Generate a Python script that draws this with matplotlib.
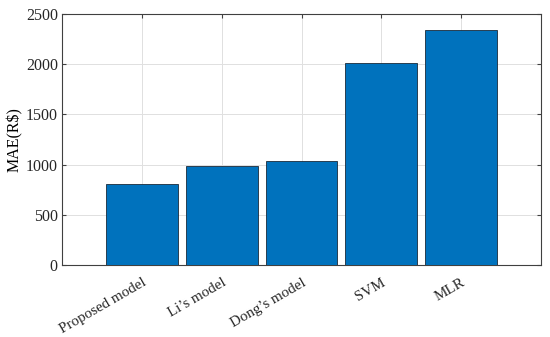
import matplotlib
matplotlib.use("Agg")
import matplotlib.pyplot as plt
import numpy as np

models = ["Proposed model", "Li\u2019s model", "Dong\u2019s model", "SVM", "MLR"]
mae = [802, 987, 1033, 2015, 2342]

plt.rcParams["font.family"] = ["Liberation Serif", "DejaVu Serif"]
plt.rcParams["font.size"] = 11.5

fig = plt.figure(figsize=(5.5, 3.37), dpi=100)
ax = fig.add_axes([62 / 550, 1 - 265 / 337, (541 - 62) / 550, (265 - 14) / 337])

x = np.arange(1, len(models) + 1)
ax.bar(x, mae, width=0.9, color="#0072BD", edgecolor="#1a2a3a", linewidth=0.6, zorder=3)

ax.set_xlim(0, 6)
ax.set_ylim(0, 2500)
ax.set_yticks(np.arange(0, 2501, 500))
ax.set_xticks(x)
ax.set_xticklabels(models, rotation=30, ha="right", rotation_mode="anchor", fontsize=10.8)
ax.set_ylabel("MAE(R$)", labelpad=2)

ax.grid(True, color="#e0e0e0", linewidth=0.7, zorder=0)
ax.tick_params(direction="in", top=True, right=True, length=3, pad=3,
               color="#404040", labelcolor="#262626")
ax.tick_params(axis="x", pad=8)
for s in ax.spines.values():
    s.set_color("#404040")
    s.set_linewidth(0.8)

fig.savefig("out.png", dpi=100)
